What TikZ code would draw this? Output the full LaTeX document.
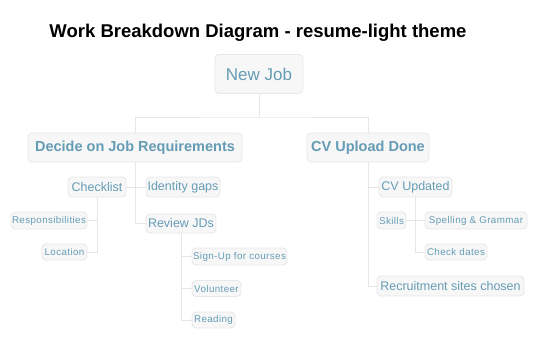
\documentclass[tikz,border=0pt]{standalone}
\usepackage{fontspec}
\setmainfont{Liberation Sans}
\definecolor{wbstext}{HTML}{659CB5}
\definecolor{wbsfill}{HTML}{F7F7F7}
\definecolor{wbsedge}{HTML}{E8E8E8}
\definecolor{wbsline}{HTML}{E6E6E6}
\tikzset{
  box/.style={draw=wbsedge, fill=wbsfill, line width=0.9pt, rounded corners=4pt,
    inner sep=0pt, text=wbstext, anchor=center, align=center},
  lvlzero/.style={box, font=\fontsize{17}{20}\selectfont},
  lvlone/.style={box, font=\fontsize{14.5}{17}\selectfont\bfseries},
  lvltwo/.style={box, font=\fontsize{12.5}{15}\selectfont},
  lvlthree/.style={box, font=\fontsize{9.8}{12}\selectfont\addfontfeature{LetterSpace=4}},
  link/.style={draw=wbsline, line width=1pt},
}
\begin{document}
\begin{tikzpicture}[x=1pt, y=-1pt]
\useasboundingbox (0,0) rectangle (536,338);

% title
\node[font=\fontsize{18.5}{22}\selectfont\bfseries, anchor=center] (title) at (258,33)
  {Work Breakdown Diagram - resume-light theme};

% root
\node[lvlzero, minimum width=88pt, minimum height=39pt] (newjob) at (259,74) {New Job};

% first level
\node[lvlone, minimum width=214pt, minimum height=29pt] (decide) at (135,147.5) {Decide on Job Requirements};
\node[lvlone, minimum width=122pt, minimum height=29pt] (cvdone) at (368,147.5) {CV Upload Done};

% under "Decide on Job Requirements"
\node[lvltwo, minimum width=58pt, minimum height=20pt] (checklist) at (97,187) {Checklist};
\node[lvltwo, minimum width=74pt, minimum height=20pt] (identity) at (183,187) {Identity gaps};
\node[lvltwo, minimum width=70pt, minimum height=19pt] (reviewjds) at (181,223.5) {Review JDs};
\node[lvlthree, minimum width=76pt, minimum height=17pt] (resp) at (49,220.5) {Responsibilities};
\node[lvlthree, minimum width=45pt, minimum height=16pt] (location) at (64.5,252) {Location};
\node[lvlthree, minimum width=95pt, minimum height=17pt] (signup) at (239.5,256.5) {Sign-Up for courses};
\node[lvlthree, minimum width=49pt, minimum height=16pt] (volunteer) at (216.5,288.5) {Volunteer};
\node[lvlthree, minimum width=43pt, minimum height=16pt] (reading) at (213.5,320) {Reading};

% under "CV Upload Done"
\node[lvltwo, minimum width=73pt, minimum height=20pt] (cvupdated) at (415.5,187) {CV Updated};
\node[lvlthree, minimum width=29pt, minimum height=17pt] (skills) at (391.5,220.5) {Skills};
\node[lvlthree, minimum width=102pt, minimum height=17pt] (spelling) at (476,220.5) {Spelling \& Grammar};
\node[lvlthree, minimum width=62pt, minimum height=16pt] (checkdates) at (456,252) {Check dates};
\node[lvltwo, minimum width=147pt, minimum height=20pt] (recruit) at (450.5,286) {Recruitment sites chosen};

% connectors
\coordinate (split) at (259,117);
\path[link] (newjob.south) -- (split);
\path[link] (decide.north) |- (split) -| (cvdone.north);

\path[link] (checklist.east) -- (identity.west);
\path[link] (decide.south) |- (reviewjds.west);
\path[link] (resp.east) -- (resp.east -| checklist.south);
\path[link] (checklist.south) |- (location.east);
\path[link] (reviewjds.south) |- (signup.west);
\path[link] (reviewjds.south) |- (volunteer.west);
\path[link] (reviewjds.south) |- (reading.west);

\path[link] (cvupdated.west) -- (cvupdated.west -| cvdone.south);
\path[link] (cvdone.south) |- (recruit.west);
\path[link] (skills.east) -- (spelling.west);
\path[link] (cvupdated.south) |- (checkdates.west);
\end{tikzpicture}
\end{document}
